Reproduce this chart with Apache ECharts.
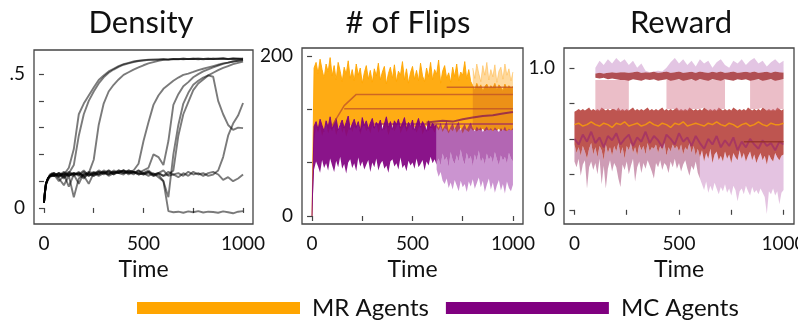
<!DOCTYPE html>
<html>
<head>
<meta charset="utf-8">
<script src="https://cdn.jsdelivr.net/npm/echarts@6/dist/echarts.min.js"></script>
<style>
html, body { margin: 0; padding: 0; background: #fff; }
#main { width: 798px; height: 331px; }
</style>
</head>
<body>
<div id="main"></div>
<script>
// ---------- Density (10 runs) ----------
var TD = [0, 5, 10, 20, 30, 40, 50, 75, 100, 125, 150, 175, 200, 225, 250, 275, 300, 325, 350, 375, 400,
	425, 450, 475, 500, 525, 550, 575, 600, 625, 650, 675, 700, 725, 750, 775, 800, 825, 850, 875, 900,
	925, 950, 975, 1000];
var dens1 = [.02, .06, .09, .11, .12, .125, .13, .12, .125, .15, .22, .35, .39, .42, .45, .478, .495, .51, .52, .53, .537, .542, .547, .55, .552, .554, .553, .555, .556, .554, .556, .557, .555, .557, .556, .558, .557, .556, .558, .557, .558, .557, .558, .557, .558];
var dens2 = [.02, .055, .085, .105, .115, .12, .125, .10, .12, .13, .16, .27, .35, .40, .435, .465, .488, .505, .517, .527, .535, .54, .545, .549, .551, .553, .555, .554, .556, .555, .557, .556, .558, .556, .557, .555, .557, .558, .556, .557, .559, .556, .557, .558, .556];
var dens3 = [.02, .06, .09, .11, .12, .12, .13, .11, .085, .12, .04, .11, .125, .13, .18, .31, .39, .435, .46, .48, .497, .507, .517, .525, .533, .54, .545, .55, .553, .554, .556, .555, .557, .556, .558, .557, .555, .557, .556, .558, .557, .556, .558, .557, .556];
var dens4 = [.02, .06, .09, .11, .12, .13, .12, .13, .11, .125, .12, .135, .115, .13, .125, .14, .13, .135, .125, .14, .135, .13, .14, .165, .25, .32, .385, .42, .445, .46, .475, .487, .497, .502, .508, .515, .52, .525, .53, .535, .54, .543, .547, .55, .552];
var dens5 = [.02, .055, .09, .11, .12, .125, .125, .115, .13, .12, .13, .125, .14, .12, .13, .135, .125, .14, .13, .135, .14, .125, .135, .13, .14, .15, .2, .19, .16, .25, .385, .425, .455, .47, .488, .50, .51, .518, .525, .532, .538, .543, .547, .55, .553];
var dens6 = [.02, .06, .09, .11, .12, .12, .12, .125, .115, .13, .125, .09, .13, .12, .135, .125, .14, .13, .135, .13, .14, .135, .13, .14, .125, .13, .12, .125, .10, .04, .2, .31, .39, .43, .46, .475, .487, .495, .49, .40, .35, .31, .292, .30, .298];
var dens7 = [.02, .06, .09, .11, .125, .13, .13, .12, .135, .125, .13, .12, .135, .125, .12, .13, .135, .125, .14, .13, .125, .14, .135, .125, .13, .14, .125, .13, .12, .125, .14, .27, .35, .395, .44, .465, .48, .495, .505, .515, .523, .53, .537, .542, .547];
var dens8 = [.02, .06, .09, .11, .12, .125, .12, .13, .12, .135, .125, .13, .12, .09, .13, .125, .135, .12, .13, .14, .13, .135, .125, .14, .13, .12, .13, .115, .10, -.012, -.016, -.014, -.018, -.013, -.016, -.012, -.017, -.014, -.015, -.018, -.013, -.016, -.02, -.014, -.012];
var dens9 = [.02, .06, .09, .11, .12, .125, .125, .12, .13, .12, .13, .125, .11, .13, .12, .135, .13, .125, .135, .13, .14, .13, .135, .125, .13, .135, .12, .13, .14, .12, .125, .115, .13, .12, .135, .125, .13, .12, .125, .14, .19, .27, .315, .345, .392];
var dens10 = [.02, .06, .09, .11, .12, .125, .12, .13, .125, .08, .125, .13, .12, .135, .13, .12, .13, .14, .125, .135, .13, .14, .135, .13, .125, .135, .125, .13, .12, .135, .125, .13, .12, .135, .125, .13, .12, .13, .135, .125, .105, .115, .10, .11, .125];
var densRuns = [dens1, dens2, dens3, dens4, dens5, dens6, dens7, dens8, dens9, dens10];

// ---------- # of Flips (t = 0..1000, step 10) ----------
var flipHiMR = [0, 185, 192, 178, 196, 183, 172, 190, 180, 198,
	175, 188, 170, 192, 181, 168, 186, 177, 194, 172,
	183, 169, 190, 176, 185, 166, 179, 188, 171, 182,
	167, 184, 175, 191, 170, 180, 187, 165, 178, 186,
	172, 189, 168, 181, 176, 193, 170, 184, 166, 179,
	187, 171, 182, 169, 191, 175, 168, 185, 174, 192,
	170, 183, 177, 195, 166, 181, 188, 172, 179, 167,
	186, 174, 190, 169, 180, 176, 193, 171, 183, 168,
	163, 158, 166, 160, 164, 157, 162, 165, 159, 163,
	160, 166, 158, 164, 161, 157, 165, 159, 163, 160,
	162];
var flipLoMR = [0, 95, 110, 104, 112, 100, 108, 115, 103, 110,
	106, 113, 101, 109, 116, 104, 111, 99, 107, 114,
	105, 112, 108, 117, 102, 110, 114, 106, 111, 103,
	113, 108, 116, 104, 110, 115, 107, 112, 101, 109,
	114, 106, 111, 117, 103, 109, 113, 105, 110, 116,
	107, 112, 104, 110, 115, 102, 108, 113, 106, 111,
	109, 104, 111, 107, 112, 105, 110, 108, 103, 109,
	106, 111, 104, 108, 110, 103, 109, 107, 105, 110,
	107, 108, 106, 108, 107, 109, 106, 108, 107, 108,
	106, 108, 107, 109, 106, 108, 107, 106, 108, 107,
	108];
// pale upper fringe of MR after t = 800
var flipPaleMR = [185, 172, 190, 178, 168, 188, 176, 192, 170, 183, 174, 189, 167, 181, 186, 171, 190, 176, 184, 169, 180];
// MC, t = 0..620
var flipHiMC = [0, 112, 118, 108, 121, 113, 106, 119, 111, 124,
	109, 116, 122, 107, 114, 120, 110, 117, 125, 108,
	115, 121, 111, 118, 106, 123, 113, 119, 109, 116,
	122, 110, 117, 113, 120, 107, 115, 124, 111, 118,
	108, 119, 114, 121, 110, 116, 123, 109, 117, 112,
	120, 107, 115, 122, 111, 118, 113, 106, 119, 110,
	116, 112, 114];
var flipLoMC = [0, 58, 68, 62, 54, 70, 60, 66, 57, 72,
	63, 55, 69, 61, 74, 59, 65, 53, 67, 71,
	60, 66, 56, 73, 62, 68, 58, 64, 70, 55,
	67, 61, 72, 57, 65, 69, 59, 63, 54, 68,
	71, 62, 66, 58, 73, 60, 64, 56, 69, 63,
	67, 59, 72, 61, 65, 70, 57, 68, 63, 74,
	66, 71, 64];
// MC, t = 620..1000
var flipLateHiMC = [114, 110, 117, 108, 113, 119, 106, 112, 116, 109, 114, 118, 107, 111, 115, 108, 113, 117, 110, 106, 112, 108, 111, 105, 109, 112, 107, 110, 106, 111, 108, 105, 110, 107, 112, 106, 109, 107, 110];
var flipLateMidMC = [66, 72, 63, 78, 69, 74, 61, 80, 70, 65, 76, 68, 83, 71, 64, 79, 70, 75, 62, 77, 69, 82, 67, 73, 64, 78, 70, 75, 66, 80, 71, 63, 76, 69, 74, 65, 79, 72, 68];
var flipLateLoMC = [58, 49, 55, 44, 40, 47, 35, 42, 33, 45, 38, 31, 44, 36, 40, 30, 43, 37, 46, 34, 41, 48, 36, 44, 30, 39, 47, 33, 42, 29, 38, 45, 32, 40, 28, 43, 35, 31, 39];
// converged runs (flat)
var flat1T = [100, 160, 220, 400, 600, 800, 1000], flat1V = [113, 138, 152, 152, 152, 152, 152];
var flat2T = [160, 1000], flat2V = [134, 134];
var flat3T = [310, 1000], flat3V = [115, 115];
var flat4T = [670, 1000], flat4V = [161, 161];
var flat5T = [570, 650, 700, 750, 800, 850, 900, 950, 1000], flat5V = [117, 119, 118, 121, 123, 125, 126, 128, 130];

// ---------- Reward ----------
var rewHi = [0.69, 0.70, 0.71, 0.70, 0.71, 0.70, 0.71, 0.72, 0.70, 0.71,
	0.70, 0.71, 0.70, 0.72, 0.71, 0.70, 0.71, 0.70, 0.71, 0.71,
	0.70, 0.72, 0.70, 0.71, 0.70, 0.71, 0.70, 0.71, 0.72, 0.70,
	0.71, 0.70, 0.71, 0.70, 0.71, 0.72, 0.70, 0.71, 0.70, 0.71,
	0.70, 0.71, 0.72, 0.70, 0.71, 0.70, 0.71, 0.70, 0.71, 0.72,
	0.70, 0.71, 0.70, 0.71, 0.70, 0.72, 0.71, 0.70, 0.71, 0.70,
	0.71, 0.70, 0.72, 0.71, 0.70, 0.71, 0.70, 0.71, 0.70, 0.72,
	0.71, 0.70, 0.71, 0.70, 0.71, 0.70, 0.72, 0.71, 0.70, 0.71,
	0.70, 0.71, 0.70, 0.72, 0.71, 0.70, 0.71, 0.70, 0.71, 0.70,
	0.72, 0.71, 0.70, 0.71, 0.70, 0.71, 0.70, 0.72, 0.71, 0.70,
	0.71];
var rewLo = [0.46, 0.40, 0.44, 0.38, 0.45, 0.41, 0.36, 0.43, 0.47, 0.39,
	0.44, 0.37, 0.45, 0.42, 0.35, 0.46, 0.40, 0.44, 0.38, 0.45,
	0.41, 0.47, 0.39, 0.44, 0.36, 0.45, 0.42, 0.47, 0.40, 0.44,
	0.38, 0.46, 0.42, 0.45, 0.39, 0.47, 0.41, 0.44, 0.43, 0.46,
	0.40, 0.45, 0.42, 0.47, 0.38, 0.44, 0.41, 0.46, 0.43, 0.45,
	0.41, 0.46, 0.39, 0.44, 0.42, 0.47, 0.40, 0.45, 0.38, 0.43,
	0.37, 0.42, 0.34, 0.40, 0.36, 0.43, 0.33, 0.39, 0.41, 0.35,
	0.38, 0.34, 0.41, 0.36, 0.39, 0.33, 0.40, 0.37, 0.35, 0.42,
	0.36, 0.40, 0.34, 0.38, 0.41, 0.35, 0.39, 0.33, 0.37, 0.40,
	0.35, 0.38, 0.32, 0.39, 0.36, 0.34, 0.40, 0.37, 0.35, 0.38,
	0.39];
var rewSpike = [0.34, 0.30, 0.36, 0.24, 0.32, 0.35, 0.15, 0.30, 0.34, 0.28,
	0.33, 0.25, 0.36, 0.18, 0.31, 0.15, 0.29, 0.35, 0.27, 0.33,
	0.30, 0.22, 0.16, 0.32, 0.28, 0.34, 0.25, 0.31, 0.36, 0.20,
	0.30, 0.34, 0.26, 0.33, 0.29, 0.35, 0.31, 0.27, 0.22, 0.33,
	0.30, 0.35, 0.28, 0.33, 0.31, 0.26, 0.34, 0.30, 0.36, 0.29,
	0.33, 0.27, 0.32, 0.35, 0.29, 0.24, 0.31, 0.28, 0.34, 0.26,
	0.22, 0.18, 0.14, 0.20, 0.12, 0.17, 0.13, 0.19, 0.15, 0.11,
	0.16, 0.13, 0.18, 0.12, 0.15, 0.10, 0.17, 0.14, 0.06, 0.13,
	0.15, 0.11, 0.17, 0.13, 0.10, 0.16, 0.12, 0.14, 0.11, 0.15,
	0.12, 0.09, -0.03, 0.13, 0.11, 0.15, 0.10, 0.13, 0.04, 0.12,
	0.14];
// upper (converged) part, t = 100..1000 step 20
var rewUpLo = [0.93, 0.925, 0.93, 0.92, 0.925, 0.92, 0.915, 0.915,
	0.91, 0.92, 0.915, 0.91, 0.92, 0.915, 0.92, 0.91, 0.915, 0.92,
	0.91, 0.915, 0.92, 0.91, 0.915, 0.92, 0.91, 0.92, 0.915, 0.91,
	0.92, 0.915, 0.91, 0.92, 0.915, 0.91, 0.92, 0.915, 0.92, 0.91,
	0.915, 0.92, 0.91, 0.915, 0.92, 0.91, 0.915, 0.92];
var rewUpHi = [0.96, 0.965, 0.96, 0.965, 0.97, 0.965, 0.97, 0.97,
	0.965, 0.97, 0.975, 0.965, 0.97, 0.968, 0.972, 0.965, 0.97, 0.975,
	0.966, 0.97, 0.974, 0.965, 0.97, 0.972, 0.966, 0.975, 0.97, 0.965,
	0.972, 0.968, 0.975, 0.966, 0.97, 0.974, 0.965, 0.97, 0.972, 0.968,
	0.975, 0.966, 0.97, 0.972, 0.965, 0.974, 0.97, 0.968];
var rewUpSpike = [1.0, 1.05, 1.02, 1.06, 1.03, 1.07, 1.04, 1.06, 1.02, 1.05,
	1.0, 1.03, 0.98, 0.97, 0.975, 0.98, 0.975, 1.0, 1.04, 1.07,
	1.03, 1.06, 1.02, 1.05, 1.01, 1.06, 1.03, 1.05, 1.0, 1.04,
	1.06, 1.02, 1.0, 1.05, 1.03, 1.06, 1.02, 1.05, 1.07, 1.03,
	1.05, 1.01, 1.04, 1.06, 1.03, 1.05];
// runs caught between the two levels (null = none)
var rewJump = [0.915, 0.915, 0.915, 0.915, 0.915, 0.915, 0.915, 0.915, 0.915,
	null, null, null, null, null, null, null, null,
	0.915, 0.915, 0.915, 0.915, 0.915, 0.915, 0.915, 0.915, 0.915, 0.915, 0.915, 0.915, 0.915, 0.915, 0.915,
	null, null, null, null, null,
	0.915, 0.915, 0.915, 0.915, 0.915, 0.915, 0.915, 0.915, 0.915];
// t = 0..1000 step 20
var rewOrange = [0.60, 0.61, 0.59, 0.60, 0.62, 0.60, 0.59, 0.61, 0.60, 0.58, 0.61, 0.60, 0.62, 0.59, 0.60, 0.61, 0.59, 0.60, 0.62, 0.60,
	0.59, 0.61, 0.60, 0.58, 0.61, 0.60, 0.62, 0.59, 0.60, 0.61, 0.60, 0.59, 0.61, 0.60, 0.62, 0.60, 0.59, 0.61, 0.60, 0.58,
	0.60, 0.61, 0.59, 0.60, 0.62, 0.60, 0.59, 0.61, 0.60, 0.60, 0.61];
var rewPurple = [0.50, 0.46, 0.53, 0.48, 0.55, 0.47, 0.51, 0.44, 0.52, 0.49, 0.54, 0.46, 0.50, 0.53, 0.45, 0.51, 0.48, 0.55, 0.47, 0.52,
	0.49, 0.44, 0.53, 0.50, 0.46, 0.54, 0.48, 0.51, 0.45, 0.52, 0.47, 0.43, 0.50, 0.46, 0.52, 0.44, 0.49, 0.45, 0.51, 0.42,
	0.48, 0.44, 0.50, 0.46, 0.43, 0.49, 0.45, 0.47, 0.42, 0.48, 0.46];
var rewFlatT = [810, 1000], rewFlatV = [0.48, 0.48];

var legendNames = ['MR Agents', 'MC Agents'];

function steps(a, b, s) {
	var r = [];
	for (var t = a; t <= b; t += s) r.push(t);
	return r;
}
var T10 = steps(0, 1000, 10);
var T20 = steps(0, 1000, 20);
var TU = steps(100, 1000, 20);

function pairs(times, vals) {
	return times.map(function(t, i) {
		return [t, vals[i]];
	});
}

function line(gi, times, vals, color, width, name) {
	return {
		type: 'line', name: name, xAxisIndex: gi, yAxisIndex: gi,
		data: pairs(times, vals), symbol: 'none', silent: true, animation: false,
		lineStyle: { color: color, width: width }
	};
}

// filled band between lo and hi, drawn as polygons through the axes' scales
function band(gi, times, lo, hi, fill, edge, name) {
	return {
		type: 'custom', name: name, xAxisIndex: gi, yAxisIndex: gi,
		silent: true, animation: false, clip: true,
		itemStyle: { color: fill },
		data: [[times[0], lo[0]]],
		renderItem: function(params, api) {
			var kids = [], seg = [];
			function flush() {
				if (seg.length > 1) {
					var top = seg.map(function(i) { return api.coord([times[i], hi[i]]); });
					var pts = top.slice();
					for (var j = seg.length - 1; j >= 0; j--) pts.push(api.coord([times[seg[j]], lo[seg[j]]]));
					kids.push({ type: 'polygon', shape: { points: pts }, style: { fill: fill } });
					if (edge) kids.push({ type: 'polyline', shape: { points: top }, style: { stroke: edge, lineWidth: 1, fill: null } });
				}
				seg = [];
			}
			for (var i = 0; i < times.length; i++) {
				if (hi[i] == null || lo[i] == null) flush();
				else seg.push(i);
			}
			flush();
			return { type: 'group', children: kids };
		}
	};
}

var font = 'Lato';
var tickStyle = { color: '#444', width: 1.2 };

function xAxisFor(gi) {
	return {
		gridIndex: gi, type: 'value', min: -50, max: 1050,
		axisLine: { show: false }, splitLine: { show: false },
		axisTick: { show: true, length: 5, customValues: [0, 250, 500, 750, 1000], lineStyle: tickStyle },
		axisLabel: { customValues: [0, 500, 1000], margin: 10, fontSize: 19, fontFamily: font, color: '#111',
			formatter: function(v) { return String(v); } },
		name: 'Time', nameLocation: 'middle', nameGap: 32,
		nameTextStyle: { fontSize: 23, fontFamily: font, color: '#111' }
	};
}

function yAxisFor(gi, min, max, ticks, labels, fmt) {
	return {
		gridIndex: gi, type: 'value', min: min, max: max,
		axisLine: { show: false }, splitLine: { show: false },
		axisTick: { show: true, length: 5, customValues: ticks, lineStyle: tickStyle },
		axisLabel: { customValues: labels, margin: 9, fontSize: 19, fontFamily: font, color: '#111', formatter: fmt }
	};
}

var series = [];

// Density
densRuns.forEach(function(run) {
	series.push(line(0, TD, run, 'rgba(0,0,0,0.52)', 1.9));
});

// Flips
var T620 = T10.slice(0, 63), TLate = T10.slice(62), T800 = T10.slice(80);
series.push(band(1, T10, flipLoMR, flipHiMR, 'rgba(255,165,0,0.92)', 'rgba(255,165,0,0.9)', legendNames[0]));
series.push(band(1, T800, flipHiMR.slice(80), flipPaleMR, 'rgba(255,180,60,0.5)', 'rgba(255,180,60,0.5)'));
series.push(band(1, T800, flipLoMR.slice(80), flipHiMR.slice(80), 'rgba(200,95,30,0.35)'));
series.push(band(1, T620, flipLoMC, flipHiMC, 'rgba(128,0,128,0.92)', 'rgba(128,0,128,0.9)', legendNames[1]));
series.push(band(1, TLate, flipLateLoMC, flipLateMidMC, 'rgba(160,60,170,0.55)'));
series.push(band(1, TLate, flipLateMidMC, flipLateHiMC, 'rgba(128,0,128,0.6)'));
series.push(line(1, flat1T, flat1V, 'rgba(190,80,40,0.75)', 1.5));
series.push(line(1, flat2T, flat2V, 'rgba(190,80,40,0.75)', 1.5));
series.push(line(1, flat3T, flat3V, 'rgba(128,0,128,0.6)', 1.5));
series.push(line(1, flat4T, flat4V, 'rgba(190,80,40,0.75)', 1.5));
series.push(line(1, flat5T, flat5V, 'rgba(140,30,80,0.8)', 2));

// Reward
var jumpBase = TU.map(function(t) { return rewHi[t / 10]; });
var early = T10.slice(0, 61), late = T10.slice(60);
series.push(band(2, early, rewSpike.slice(0, 61), rewLo.slice(0, 61), 'rgba(165,75,120,0.55)'));
series.push(band(2, late, rewSpike.slice(60), rewLo.slice(60), 'rgba(205,145,200,0.55)'));
series.push(band(2, T10, rewLo, rewHi, 'rgba(185,70,65,0.92)'));
series.push(band(2, TU, jumpBase, rewJump, 'rgba(215,125,145,0.5)'));
series.push(band(2, TU, rewUpLo, rewUpHi, 'rgba(165,55,60,0.88)'));
series.push(band(2, TU, rewUpHi, rewUpSpike, 'rgba(200,140,200,0.5)'));
series.push(line(2, T20, rewPurple, 'rgba(128,0,128,0.35)', 2));
series.push(line(2, T20, rewOrange, 'rgba(255,165,0,0.75)', 1.5));
series.push(line(2, rewFlatT, rewFlatV, 'rgba(150,50,40,0.9)', 1.5));

var chart = echarts.init(document.getElementById('main'));
chart.setOption({
	animation: false,
	grid: [
		{ left: 34, top: 50, width: 219, height: 174, show: true, borderColor: '#444', borderWidth: 1.3, outerBoundsMode: 'none' },
		{ left: 302, top: 48, width: 221, height: 176, show: true, borderColor: '#444', borderWidth: 1.3, outerBoundsMode: 'none' },
		{ left: 564, top: 48, width: 230, height: 176, show: true, borderColor: '#444', borderWidth: 1.3, outerBoundsMode: 'none' }
	],
	xAxis: [xAxisFor(0), xAxisFor(1), xAxisFor(2)],
	yAxis: [
		yAxisFor(0, -0.06, 0.59, [0, 0.1, 0.2, 0.3, 0.4, 0.5], [0, 0.5], function(v) {
			return Math.abs(v) < 1e-9 ? '0' : '.5';
		}),
		yAxisFor(1, -10, 210, [0, 200 / 3, 400 / 3, 200], [0, 200], function(v) {
			return String(Math.round(v));
		}),
		yAxisFor(2, -0.1, 1.14, [0, 0.25, 0.5, 0.75, 1], [0, 1], function(v) {
			return Math.abs(v) < 1e-9 ? '0' : '1.0';
		})
	],
	legend: {
		left: 137, top: 296, padding: 0, itemWidth: 163, itemHeight: 12, itemGap: 17, icon: 'rect',
		selectedMode: false,
		textStyle: { fontSize: 24, fontFamily: font, color: '#111', padding: [0, 0, 0, 7] },
		data: [
			{ name: legendNames[0], itemStyle: { color: '#FFA500', opacity: 1 } },
			{ name: legendNames[1], itemStyle: { color: '#800080', opacity: 1 } }
		]
	},
	graphic: [
		{ type: 'text', x: 141, y: 23, style: { text: 'Density', fontSize: 31, fontFamily: font, fill: '#111', align: 'center', verticalAlign: 'middle' } },
		{ type: 'text', x: 408, y: 23, style: { text: '# of Flips', fontSize: 31, fontFamily: font, fill: '#111', align: 'center', verticalAlign: 'middle' } },
		{ type: 'text', x: 681, y: 23, style: { text: 'Reward', fontSize: 31, fontFamily: font, fill: '#111', align: 'center', verticalAlign: 'middle' } }
	],
	series: series
});
</script>
</body>
</html>
